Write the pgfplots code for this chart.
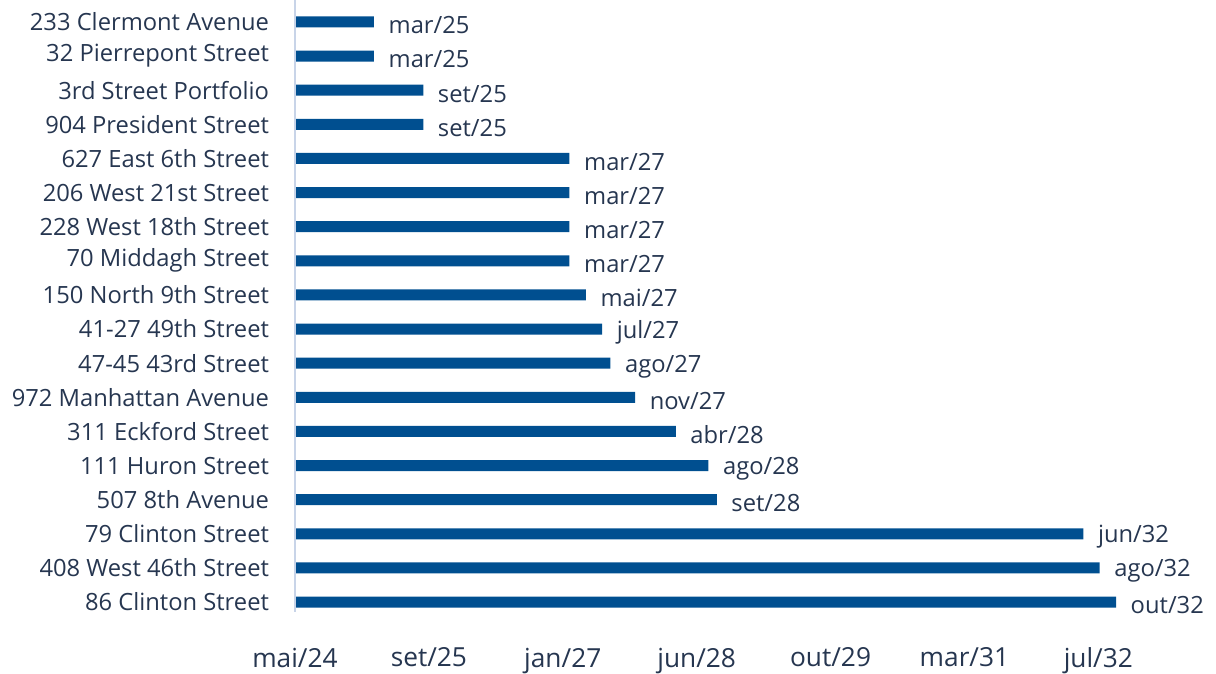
\documentclass[border=0pt]{standalone}
\usepackage{pgfplots}
\pgfplotsset{compat=1.18}
\usepackage{pgfplotstable}
\usepackage{fontspec}
\setmainfont{Open Sans}
\definecolor{barblue}{HTML}{004F90}
\definecolor{txt}{HTML}{263650}
\definecolor{axline}{HTML}{C8D4E8}
\pgfplotstableread{
y x label
17 295 mar/25
16 295 mar/25
15 479 set/25
14 479 set/25
13 1025 mar/27
12 1025 mar/27
11 1025 mar/27
10 1025 mar/27
9 1086 mai/27
8 1147 jul/27
7 1178 ago/27
6 1270 nov/27
5 1422 abr/28
4 1544 ago/28
3 1575 set/28
2 2944 jun/32
1 3005 ago/32
0 3066 out/32
}\datatable
\begin{document}
\begin{tikzpicture}
\useasboundingbox (-221.25pt,-40.46pt) rectangle (690.75pt,464.3pt);
\begin{axis}[
  at={(0,0)}, anchor=south west,
  scale only axis,
  width=602.5pt, height=460.6pt,
  xmin=0, xmax=3000, ymin=-0.5, ymax=17.5,
  axis line style={draw=none},
  clip=false,
  xbar, bar shift=0pt, bar width=8.25pt,
  major tick length=0pt,
  xtick={0,500,1000,1500,2000,2500,3000},
  xticklabels={mai/24,set/25,jan/27,jun/28,out/29,mar/31,jul/32},
  ytick={0,...,17},
  yticklabels={86 Clinton Street,408 West 46th Street,79 Clinton Street,507 8th Avenue,111 Huron Street,311 Eckford Street,972 Manhattan Avenue,47-45 43rd Street,41-27 49th Street,150 North 9th Street,70 Middagh Street,228 West 18th Street,206 West 21st Street,627 East 6th Street,904 President Street,3rd Street Portfolio,32 Pierrepont Street,233 Clermont Avenue},
  yticklabel style={font=\fontsize{17.8}{20}\selectfont, text=txt, anchor=east, xshift=-16pt},
  xticklabel style={font=\fontsize{19.7}{22}\selectfont, text=txt, yshift=-18pt},
  nodes near coords,
  point meta=explicit symbolic,
  every node near coord/.append style={font=\fontsize{17.8}{20}\selectfont, text=txt, anchor=west, xshift=7.5pt, yshift=-2.5pt},
]
\addplot[fill=barblue, draw=none] table[x=x, y=y, meta=label] {\datatable};
\draw[axline, line width=1pt] (axis cs:0,17.85) -- (axis cs:0,-0.3);
\end{axis}
\end{tikzpicture}
\end{document}
